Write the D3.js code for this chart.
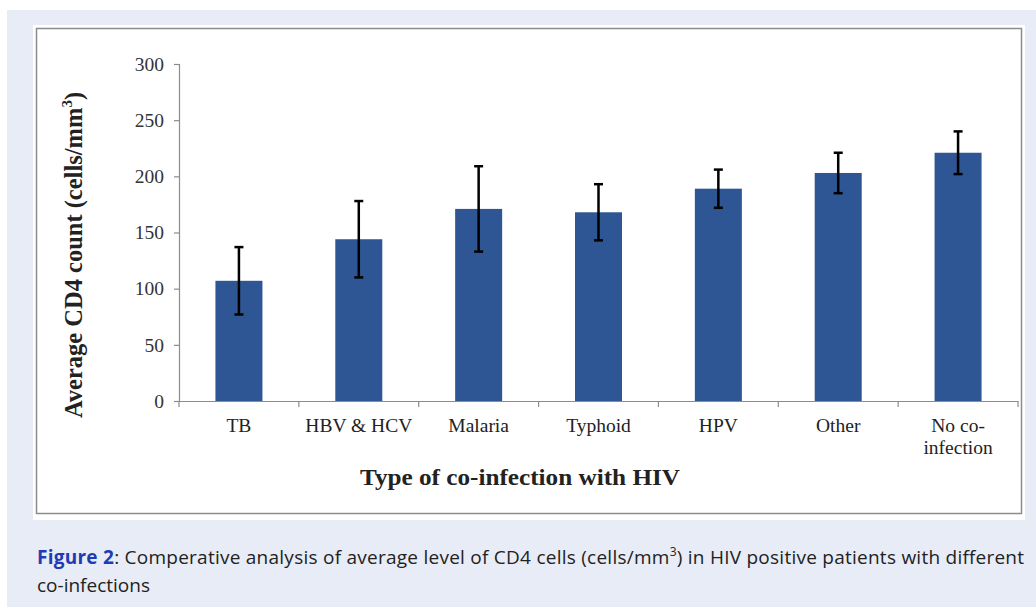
<!DOCTYPE html>
<html>
<head>
<meta charset="utf-8">
<script src="https://cdn.jsdelivr.net/npm/d3@7"></script>
<style>
html,body{margin:0;padding:0;background:#ffffff;}
svg{display:block;}
</style>
</head>
<body>
<svg id="chart" width="1036" height="607"></svg>
<script>
const categories = ["TB", "HBV & HCV", "Malaria", "Typhoid", "HPV", "Other", "No co-infection"];
const categoryLines = [["TB"], ["HBV & HCV"], ["Malaria"], ["Typhoid"], ["HPV"], ["Other"], ["No co-", "infection"]];
const means = [107, 144, 171, 168, 189, 203, 221];
const errors = [30, 34, 38, 25, 17, 18, 19];
const yTicks = [0, 50, 100, 150, 200, 250, 300];

const svg = d3.select("#chart");

// page background panels
svg.append("rect").attr("x", 7).attr("y", 10).attr("width", 1029).attr("height", 597).attr("fill", "#e8ecf6");
svg.append("rect").attr("x", 33).attr("y", 25).attr("width", 992).attr("height", 495).attr("fill", "#ffffff");
svg.append("rect").attr("x", 36.5).attr("y", 28.5).attr("width", 985).attr("height", 485)
  .attr("fill", "none").attr("stroke", "#8c8c8c").attr("stroke-width", 1.5);

const x0 = 179, x1 = 1018, yTop = 64, yBot = 401;
const x = d3.scaleBand().domain(categories).range([x0, x1]).paddingInner(0).paddingOuter(0);
const y = d3.scaleLinear().domain([0, 300]).range([yBot, yTop]);

const serif = "'Liberation Serif','Times New Roman',serif";

// y axis
const yAxis = svg.append("g").attr("transform", `translate(${x0},0)`)
  .call(d3.axisLeft(y).tickValues(yTicks).tickSize(5).tickPadding(10));
yAxis.select(".domain").attr("stroke", "#8c8c8c").attr("stroke-width", 1.2);
yAxis.selectAll(".tick line").attr("stroke", "#8c8c8c").attr("stroke-width", 1.2);
yAxis.selectAll(".tick text").attr("font-family", serif).attr("font-size", 19.5).attr("fill", "#333");

// x axis
const xAxis = svg.append("g").attr("transform", `translate(0,${yBot})`)
  .call(d3.axisBottom(x).tickSize(0).tickFormat(""));
xAxis.select(".domain").attr("stroke", "#8c8c8c").attr("stroke-width", 1.2);
// boundary ticks
const bounds = categories.map(c => x(c)).concat([x1]);
svg.append("g").selectAll("line").data(bounds).join("line")
  .attr("x1", d => d).attr("x2", d => d).attr("y1", yBot).attr("y2", yBot + 6)
  .attr("stroke", "#8c8c8c").attr("stroke-width", 1.2);

// category labels
const lab = svg.append("g").selectAll("text").data(categories).join("text")
  .attr("x", d => x(d) + x.bandwidth() / 2)
  .attr("y", 432)
  .attr("text-anchor", "middle")
  .attr("font-family", serif).attr("font-size", 19.5).attr("fill", "#222");
lab.each(function(d, i) {
  const t = d3.select(this);
  categoryLines[i].forEach((ln, k) => {
    t.append("tspan").attr("x", x(d) + x.bandwidth() / 2).attr("dy", k === 0 ? 0 : 22).text(ln);
  });
});

// bars
const bw = 47;
svg.append("g").selectAll("rect").data(means).join("rect")
  .attr("x", (d, i) => x(categories[i]) + x.bandwidth() / 2 - bw / 2)
  .attr("y", d => y(d))
  .attr("width", bw)
  .attr("height", d => y(0) - y(d))
  .attr("fill", "#2e5594");

// error bars
const eg = svg.append("g").attr("stroke", "#000").attr("stroke-width", 2.5);
means.forEach((m, i) => {
  const cx = x(categories[i]) + x.bandwidth() / 2;
  eg.append("line").attr("x1", cx).attr("x2", cx).attr("y1", y(m + errors[i])).attr("y2", y(m - errors[i]));
  eg.append("line").attr("x1", cx - 4.5).attr("x2", cx + 4.5).attr("y1", y(m + errors[i])).attr("y2", y(m + errors[i]));
  eg.append("line").attr("x1", cx - 4.5).attr("x2", cx + 4.5).attr("y1", y(m - errors[i])).attr("y2", y(m - errors[i]));
});

// axis titles
const yt = svg.append("text")
  .attr("transform", `translate(82,255) rotate(-90)`)
  .attr("text-anchor", "middle")
  .attr("font-family", serif).attr("font-size", 24.5).attr("font-weight", "bold").attr("fill", "#222");
yt.append("tspan").text("Average CD4 count (cells/mm");
yt.append("tspan").attr("font-size", 15).attr("dy", -10).text("3");
yt.append("tspan").attr("dy", 10).text(")");

svg.append("text").attr("x", 520).attr("y", 485).attr("text-anchor", "middle")
  .attr("font-family", serif).attr("font-size", 24).attr("font-weight", "bold").attr("fill", "#222")
  .attr("textLength", 320).attr("lengthAdjust", "spacingAndGlyphs")
  .text("Type of co-infection with HIV");

// caption
const sans = "'Open Sans','Noto Sans',sans-serif";
const cap = svg.append("text").attr("x", 37).attr("y", 564)
  .attr("font-family", sans).attr("font-size", 19).attr("fill", "#222")
  .attr("textLength", 987).attr("lengthAdjust", "spacing");
cap.append("tspan").attr("font-weight", "bold").attr("fill", "#1f3cb4").text("Figure 2");
cap.append("tspan").text(": Comperative analysis of average level of CD4 cells (cells/mm");
cap.append("tspan").attr("font-size", 12).attr("dy", -8).text("3");
cap.append("tspan").attr("dy", 8).text(") in HIV positive patients with different");
svg.append("text").attr("x", 37).attr("y", 592)
  .attr("font-family", sans).attr("font-size", 19).attr("fill", "#222")
  .text("co-infections");
</script>
</body>
</html>
